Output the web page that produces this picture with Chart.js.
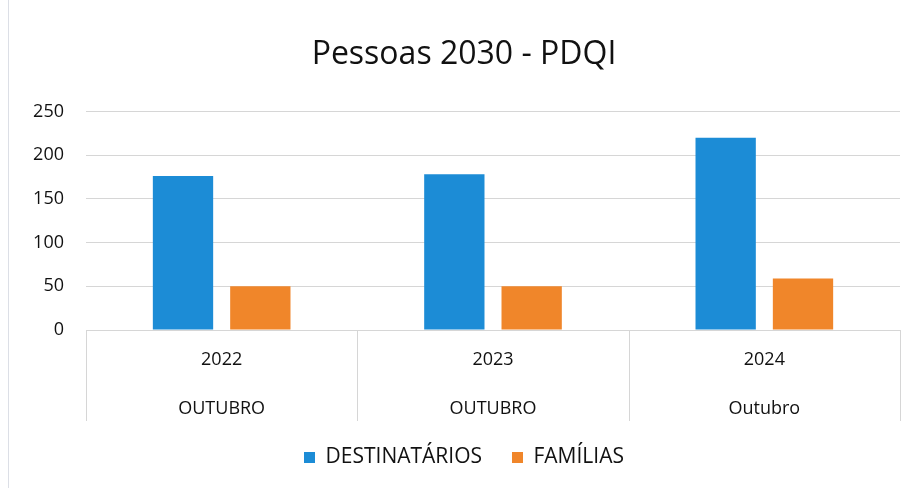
<!DOCTYPE html>
<html>
<head>
<meta charset="utf-8">
<script src="https://cdn.jsdelivr.net/npm/chart.js@4"></script>
<style>
    body { margin: 0; background: #fff; }
    #caixa { width: 918px; height: 488px; position: relative; }
    #caixa::before { content: ''; position: absolute; left: 8px; top: 0; bottom: 0; border-left: 1px solid #dcdfe6; }
</style>
</head>
<body>
<div id="caixa"><canvas id="myChart"></canvas></div>
<script>
// dados do gráfico
var anos = ['2022', '2023', '2024'];
var meses = ['OUTUBRO', 'OUTUBRO', 'Outubro'];
var destinatarios = [176, 178, 220];
var familias = [50, 50, 59];
var ticksY = [0, 50, 100, 150, 200, 250];

var labels = [];
for (i = 0; i < anos.length; i++) {
    labels.push([anos[i], meses[i]]);
}

Chart.defaults.font.family = "'Open Sans', 'Noto Sans', sans-serif";
Chart.defaults.color = '#111';

// linhas verticais entre as categorias, abaixo do eixo x
const divisorias = {
    id: 'divisorias',
    afterDraw: function (chart) {
        var escala = chart.scales.x;
        var ctx = chart.ctx;
        var n = escala.ticks.length;
        var posicoes = [escala.left, escala.right];
        for (i = 1; i < n; i++) {
            posicoes.push((escala.getPixelForValue(i - 1) + escala.getPixelForValue(i)) / 2);
        }
        ctx.save();
        ctx.strokeStyle = '#d6d6d6';
        ctx.lineWidth = 1;
        for (i = 0; i < posicoes.length; i++) {
            var px = Math.round(posicoes[i]) + 0.5;
            ctx.beginPath();
            ctx.moveTo(px, escala.top);
            ctx.lineTo(px, escala.top + 91);
            ctx.stroke();
        }
        ctx.restore();
    }
};

const config = {
    type: 'bar',
    data: {
        labels: labels,
        datasets: [{
            label: 'DESTINATÁRIOS',
            data: destinatarios,
            backgroundColor: '#1c8cd6',
            categoryPercentage: 0.57,
            barPercentage: 0.78
        }, {
            label: 'FAMÍLIAS',
            data: familias,
            backgroundColor: '#f0862a',
            categoryPercentage: 0.57,
            barPercentage: 0.78
        }]
    },
    options: {
        responsive: true,
        maintainAspectRatio: false,
        animation: false,
        layout: {
            padding: { left: 28, right: 18, top: 0, bottom: 10 }
        },
        scales: {
            y: {
                min: 0,
                max: 250,
                afterBuildTicks: function (scale) {
                    scale.ticks = ticksY.map(function (v) { return { value: v }; });
                },
                afterFit: function (scale) {
                    scale.width = 58;
                },
                ticks: {
                    color: '#111',
                    padding: 22,
                    font: { size: 18 }
                },
                grid: {
                    color: '#d6d6d6',
                    drawTicks: false
                },
                border: { display: false }
            },
            x: {
                afterFit: function (scale) {
                    scale.height = 87;
                },
                ticks: {
                    color: '#111',
                    padding: -3,
                    font: { size: 18, lineHeight: 2.72 }
                },
                grid: {
                    display: false
                },
                border: { display: true, color: '#d6d6d6' }
            }
        },
        plugins: {
            legend: {
                position: 'bottom',
                labels: {
                    color: '#111',
                    boxWidth: 11,
                    boxHeight: 11,
                    padding: 30,
                    font: { size: 21 }
                }
            },
            title: {
                display: true,
                text: 'Pessoas 2030 - PDQI',
                color: '#111',
                padding: { top: 36, bottom: 37 },
                font: { size: 32, weight: 'normal' }
            },
            tooltip: { enabled: false }
        }
    },
    plugins: [divisorias]
};

let myChart = new Chart(document.getElementById('myChart'), config);
</script>
</body>
</html>
